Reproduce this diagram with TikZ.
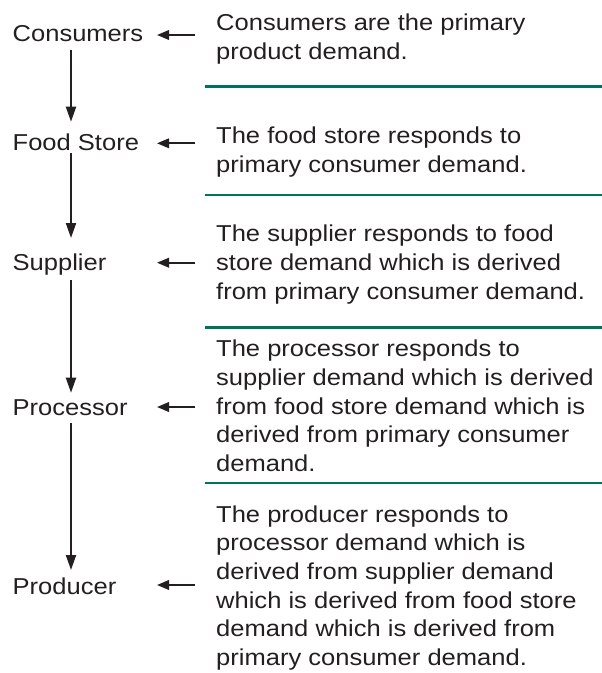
\documentclass[tikz,border=0pt]{standalone}
\usepackage{fontspec}
\setmainfont[FakeStretch=1.11]{Liberation Sans}
\usetikzlibrary{arrows.meta,calc}
\definecolor{ink}{HTML}{231F20}
\definecolor{rulegreen}{RGB}{0,115,90}
\begin{document}
\begin{tikzpicture}[x=1pt,y=-1pt,
  every node/.style={inner sep=0pt, text=ink, font=\fontsize{23}{28.7}\selectfont},
  stage/.style={anchor=base west},
  note/.style={anchor=base west, align=left},
  flow/.style={draw=ink, line width=2pt, -{Triangle[length=15pt,width=10pt]}},
  feed/.style={draw=ink, line width=2pt, -{Triangle[length=12pt,width=9.5pt]}},
  divider/.style={draw=rulegreen, line width=2.6pt}]
\useasboundingbox (0,0) rectangle (602,673);

% reference columns
\coordinate (col) at (71,0);
\coordinate (tail) at (195,0);
\coordinate (tip) at (157,0);

% chain of stages
\node[stage] (cons) at (12.5,41.5) {Consumers};
\node[stage] (food) at (12.5,150) {Food Store};
\node[stage] (supp) at (12.5,270) {Supplier};
\node[stage] (proc) at (12.5,415) {Processor};
\node[stage] (prod) at (12.5,594) {Producer};

% explanations (a multi-line node sits on the baseline of its last line)
\node[note] (t1) at (216,59.4) {Consumers are the primary\\product demand.};
\node[note] (t2) at (216,172) {The food store responds to\\primary consumer demand.};
\node[note] (t3) at (216,299.1) {The supplier responds to food\\store demand which is derived\\from primary consumer demand.};
\node[note] (t4) at (216,471.5) {The processor responds to\\supplier demand which is derived\\from food store demand which is\\derived from primary consumer\\demand.};
\node[note] (t5) at (216,665.5) {The producer responds to\\processor demand which is\\derived from supplier demand\\which is derived from food store\\demand which is derived from\\primary consumer demand.};

% dividers
\draw[divider] (205,86.7) -- (602,86.7);
\draw[divider] (205,195) -- (602,195);
\draw[divider] (205,327.3) -- (602,327.3);
\draw[divider] (205,483) -- (602,483);

% demand flows down the chain
\draw[flow] ($(cons.base -| col)+(0,8.5)$) -- ($(food.base -| col)+(0,-28.3)$);
\draw[flow] ($(food.base -| col)+(0,3.3)$) -- ($(supp.base -| col)+(0,-32)$);
\draw[flow] ($(supp.base -| col)+(0,10)$) -- ($(proc.base -| col)+(0,-22.3)$);
\draw[flow] ($(proc.base -| col)+(0,7.7)$) -- ($(prod.base -| col)+(0,-24)$);

% each explanation points at its stage
\draw[feed] ($(cons.base -| tail)+(0,-6.5)$) -- ($(cons.base -| tip)+(0,-6.5)$);
\draw[feed] ($(food.base -| tail)+(0,-6.7)$) -- ($(food.base -| tip)+(0,-6.7)$);
\draw[feed] ($(supp.base -| tail)+(0,-7.3)$) -- ($(supp.base -| tip)+(0,-7.3)$);
\draw[feed] ($(proc.base -| tail)+(0,-8)$) -- ($(proc.base -| tip)+(0,-8)$);
\draw[feed] ($(prod.base -| tail)+(0,-9)$) -- ($(prod.base -| tip)+(0,-9)$);
\end{tikzpicture}
\end{document}
